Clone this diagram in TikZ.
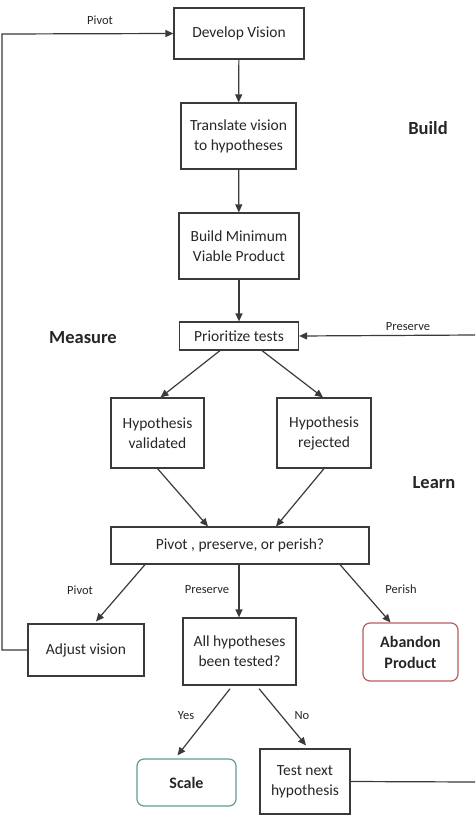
\documentclass[tikz,border=0pt]{standalone}
\usepackage{fontspec}
\setmainfont{Carlito}
\usetikzlibrary{arrows.meta,calc}
\definecolor{linec}{HTML}{3A3A3A}
\definecolor{redc}{HTML}{B85C5C}
\definecolor{tealc}{HTML}{5E9C96}
\tikzset{
  boxn/.style={draw=linec, line width=1.2pt, align=center, inner sep=0pt, font=\fontsize{15.5}{20}\selectfont, text=black!85},
  boldbox/.style={boxn, rounded corners=7pt, font=\bfseries\fontsize{16}{21}\selectfont},
  arr/.style={draw=linec, line width=1.2pt, -{Triangle[length=8pt,width=7pt]}},
  plainline/.style={draw=linec, line width=1.2pt},
  lbl/.style={font=\fontsize{12.5}{14}\selectfont, text=black!85},
  phase/.style={font=\bfseries\fontsize{18.5}{22}\selectfont, text=black!85}
}
\begin{document}
\begin{tikzpicture}[x=1pt,y=-1pt]
\useasboundingbox (0,0) rectangle (475,816);
\node[boxn, minimum width=130, minimum height=51] (dev) at (239,33.5) {Develop Vision};
\node[boxn, minimum width=115, minimum height=66] (trans) at (238.5,136) {Translate vision\\to hypotheses};
\node[boxn, minimum width=120, minimum height=66] (mvp) at (239,246) {Build Minimum\\Viable Product};
\node[boxn, minimum width=119, minimum height=28] (prio) at (239,336) {Prioritize tests};
\node[boxn, minimum width=93, minimum height=70] (hv) at (157.5,433) {Hypothesis\\validated};
\node[boxn, minimum width=94, minimum height=70] (hr) at (324,433) {Hypothesis\\rejected};
\node[boxn, minimum width=258, minimum height=37] (ppp) at (240,545.5) {Pivot , preserve, or perish?};
\node[boxn, minimum width=116, minimum height=52] (adj) at (86,650) {Adjust vision};
\node[boxn, minimum width=113, minimum height=67] (all) at (239.5,651.5) {All hypotheses\\been tested?};
\node[boldbox, draw=redc, minimum width=95, minimum height=58] (aband) at (410.5,652) {Abandon\\Product};
\node[boldbox, draw=tealc, minimum width=99, minimum height=47] (scale) at (186.5,782.5) {Scale};
\node[boxn, minimum width=90, minimum height=65] (test) at (305,781.5) {Test next\\hypothesis};

\node[phase] (build) at (428,128) {Build};
\node[phase] (measure) at (83,338) {Measure};
\node[phase] (learn) at (434,483) {Learn};

\node[lbl] (lpivot1) at (100,20) {Pivot};
\node[lbl] (lpres1) at (408,327) {Preserve};
\node[lbl] (lpivot2) at (80,590) {Pivot};
\node[lbl] (lpres2) at (207,590) {Preserve};
\node[lbl] (lperish) at (401,589) {Perish};
\node[lbl] (lyes) at (186,716) {Yes};
\node[lbl] (lno) at (302,716) {No};

\coordinate (lefttop) at (2,34);
\coordinate (rightpres) at (475,335);
\coordinate (righttest) at (475,782);

\draw[arr] (dev) -- (trans);
\draw[arr] (trans) -- (mvp);
\draw[arr] (mvp) -- (prio);
\draw[arr] ($(prio.south)+(-19,0)$) -- ($(hv.north)+(3,0)$);
\draw[arr] ($(prio.south)+(23,0)$) -- ($(hr.north)+(-1,0)$);
\draw[arr] (hv.south) -- ($(ppp.north)+(-32,0)$);
\draw[arr] (hr.south) -- ($(ppp.north)+(36,0)$);
\draw[arr] ($(ppp.south)+(-95,0)$) -- ($(adj.north)+(10,-2)$);
\draw[arr] ($(ppp.south)+(-1,0)$) -- ($(all.north)+(-0.5,0)$);
\draw[arr] ($(ppp.south)+(100,0)$) -- ($(aband.north)+(-20,0)$);
\draw[arr, shorten <=4pt] ($(all.south)+(-7,0)$) -- ($(scale.north)+(-9,-3)$);
\draw[arr, shorten <=4pt] ($(all.south)+(17,0)$) -- ($(test.north)+(1,-3)$);
\draw[arr] (adj.west) -- (lefttop |- adj.west) -- (lefttop) -- (dev.west);
\draw[arr] (rightpres) -- (prio.east);
\draw[plainline] (test.east) -- (righttest);
\end{tikzpicture}
\end{document}
